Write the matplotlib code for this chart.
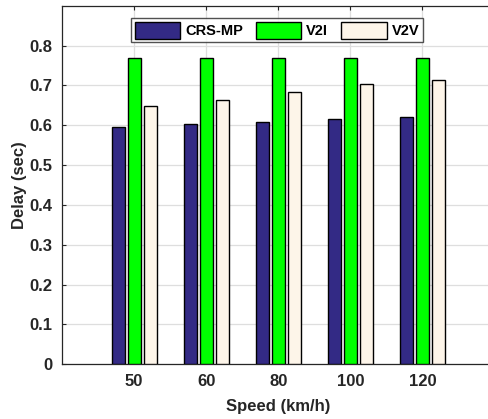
import matplotlib
matplotlib.use("Agg")
import matplotlib.pyplot as plt
import numpy as np

speeds = ["50", "60", "80", "100", "120"]
crs_mp = [0.595, 0.602, 0.609, 0.617, 0.620]
v2i = [0.77, 0.77, 0.77, 0.77, 0.77]
v2v = [0.648, 0.664, 0.684, 0.703, 0.714]
series_names = ["CRS-MP", "V2I", "V2V"]
colors = ["#332A85", "#00FF00", "#FDF5E9"]

plt.rcParams['font.family'] = ['Liberation Sans', 'DejaVu Sans']
plt.rcParams['font.weight'] = 'bold'

fig = plt.figure(figsize=(4.89, 4.19), dpi=100)
ax = fig.add_axes([0.127, 0.131, 0.884, 0.855])

x = np.arange(1, len(speeds) + 1)
off = 0.222
w = 0.18
for i, (vals, name, c) in enumerate(zip([crs_mp, v2i, v2v], series_names, colors)):
    ax.bar(x + (i - 1) * off, vals, width=w, color=c, edgecolor='black',
           linewidth=1.0, label=name, zorder=3)

ax.set_xlim(0, 6)
ax.set_ylim(0, 0.9)
ax.set_xticks(x)
ax.set_xticklabels(speeds)
ax.set_yticks(np.arange(0, 0.81, 0.1))
ax.set_yticklabels(["0", "0.1", "0.2", "0.3", "0.4", "0.5", "0.6", "0.7", "0.8"])
ax.grid(True, color='#dedede', linewidth=0.9, zorder=0)
ax.set_axisbelow(True)
ax.tick_params(direction='in', length=3, width=0.8, colors='#262626',
               labelsize=12, top=True, right=True, pad=7)
for lab in ax.get_xticklabels() + ax.get_yticklabels():
    lab.set_fontweight('bold')
for s in ax.spines.values():
    s.set_color('#262626')
    s.set_linewidth(0.9)

ax.set_xlabel("Speed (km/h)", fontsize=12, fontweight='bold', color='#262626', labelpad=7)
ax.set_ylabel("Delay (sec)", fontsize=12, fontweight='bold', color='#262626', labelpad=2)

leg = ax.legend(loc='upper center', bbox_to_anchor=(0.497, 0.966), ncol=3,
                frameon=True, fancybox=False, edgecolor='#262626',
                prop={'weight': 'bold', 'size': 10.5},
                handlelength=3.1, handleheight=1.4, columnspacing=0.9,
                handletextpad=0.35, borderpad=0.25, borderaxespad=0)
leg.get_frame().set_linewidth(1.0)

fig.savefig("out.png", dpi=100)
